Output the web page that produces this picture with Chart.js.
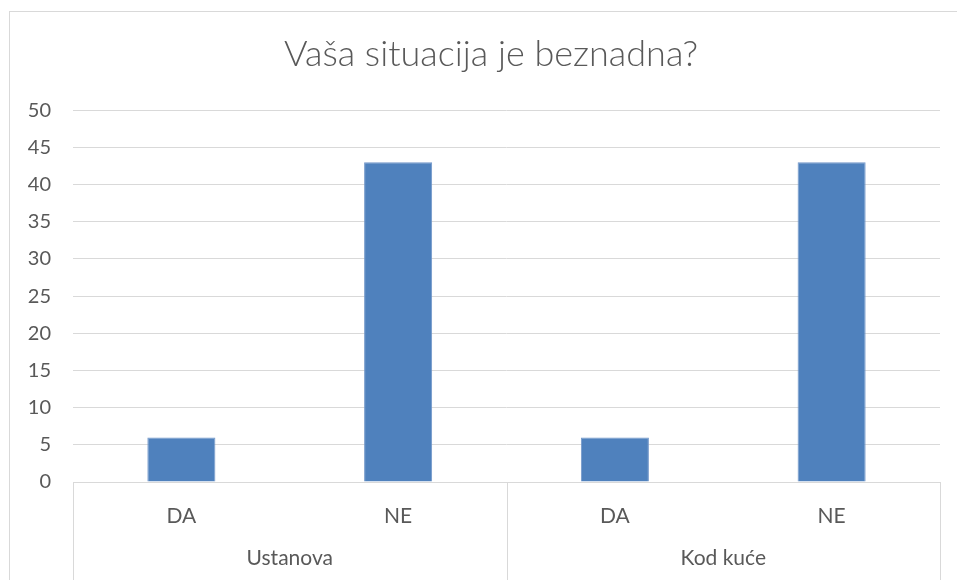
<!DOCTYPE html>
<html lang="hr">
  <head>
    <meta charset="UTF-8" />
    <meta name="viewport" content="width=device-width, initial-scale=1.0" />
    <title>Vaša situacija je beznadna?</title>
    <style>
      html, body { margin: 0; padding: 0; background: #fff; overflow: hidden; }
      #wrap {
        position: absolute;
        left: 9px;
        top: 11px;
        width: 992px;
        height: 600px;
        border: 1px solid #d9d9d9;
      }
    </style>
  </head>
  <body>
    <div id="wrap">
      <canvas id="myChart" width="992" height="600"></canvas>
    </div>
    <script src="https://cdn.jsdelivr.net/npm/chart.js@4.4.1/dist/chart.umd.min.js"></script>
    <script>
      const titleText = "Vaša situacija je beznadna?";
      const groups = ["Ustanova", "Kod kuće"];
      const answers = ["DA", "NE"];
      const counts = [6, 43, 6, 43];
      const yMin = 0;
      const yMax = 50;
      const yStep = 5;

      const textColor = "#595959";
      const lineColor = "#d9d9d9";
      const font = "Lato, 'Open Sans', sans-serif";

      const labels = groups.flatMap(() => answers);

      // second row of the category axis: group names + separators
      const groupAxis = {
        id: "groupAxis",
        afterDraw(chart) {
          const x = chart.scales.x;
          const ctx = chart.ctx;
          const half = (x.getPixelForValue(1) - x.getPixelForValue(0)) / 2;
          const top = chart.chartArea.bottom;
          const bottom = chart.height;
          ctx.save();
          ctx.strokeStyle = lineColor;
          ctx.lineWidth = 1;
          ctx.fillStyle = textColor;
          ctx.font = "21px " + font;
          ctx.textAlign = "center";
          ctx.textBaseline = "middle";
          groups.forEach((g, i) => {
            const first = i * answers.length;
            const last = first + answers.length - 1;
            const left = x.getPixelForValue(first) - half;
            const right = x.getPixelForValue(last) + half;
            [left, right].forEach((px) => {
              const p = Math.round(px) + 0.5;
              ctx.beginPath();
              ctx.moveTo(p, top);
              ctx.lineTo(p, bottom);
              ctx.stroke();
            });
            ctx.fillText(g, (left + right) / 2, top + 76);
          });
          ctx.restore();
        },
      };

      const ctx = document.getElementById("myChart").getContext("2d");

      const myChart = new Chart(ctx, {
        type: "bar",
        data: {
          labels: labels,
          datasets: [
            {
              label: titleText,
              data: counts,
              backgroundColor: "#4f81bd",
              borderColor: "#7196c9",
              borderWidth: 1,
              barPercentage: 0.314,
              categoryPercentage: 1,
            },
          ],
        },
        options: {
          responsive: false,
          animation: false,
          layout: {
            padding: { left: 0, right: 30, top: 0, bottom: 0 },
          },
          plugins: {
            legend: { display: false },
            tooltip: { enabled: false },
            title: {
              display: true,
              text: titleText,
              color: textColor,
              font: { family: font, size: 36, weight: "300" },
              padding: { top: 21, bottom: 34 },
            },
          },
          scales: {
            x: {
              grid: { display: false, drawTicks: false },
              border: { display: true, color: lineColor },
              ticks: {
                color: textColor,
                font: { family: font, size: 21 },
                padding: 22,
                maxRotation: 0,
              },
              afterFit: (scale) => {
                scale.height = 130;
              },
            },
            y: {
              min: yMin,
              max: yMax,
              grid: { color: lineColor, drawTicks: false },
              border: { display: false },
              ticks: {
                stepSize: yStep,
                color: textColor,
                font: { family: font, size: 20 },
                padding: 22,
              },
              afterFit: (scale) => {
                scale.width = 63;
              },
            },
            // empty right margin of the plot, keeps the title centred on the whole chart
            yRight: {
              position: "right",
              min: yMin,
              max: yMax,
              grid: { drawOnChartArea: false, drawTicks: false },
              border: { display: false },
              ticks: { display: false },
              afterFit: (scale) => {
                scale.width = 32;
              },
            },
          },
        },
        plugins: [groupAxis],
      });
    </script>
  </body>
</html>
